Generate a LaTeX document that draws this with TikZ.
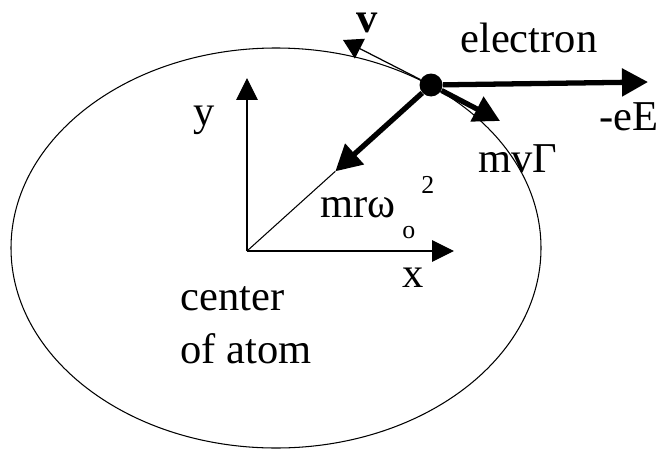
\documentclass[tikz,border=0pt]{standalone}
\usepackage{fontspec}
\setmainfont{Liberation Serif}
\usepackage{tikz}
\usetikzlibrary{arrows.meta, positioning, calc}

\begin{document}
\begin{tikzpicture}[
    x=0.02cm, y=-0.02cm,
    lbl/.style={inner sep=0pt, anchor=base west, font=\fontsize{24.2}{30}\selectfont},
    idx/.style={inner sep=0pt, anchor=base west, font=\fontsize{14.7}{18}\selectfont},
    axis/.style={-{Triangle[length=0.44cm, width=0.43cm]}, line width=0.6pt},
    force/.style={-{Triangle[length=0.52cm, width=0.54cm]}, line width=3pt},
    vel/.style={-{Triangle[length=0.38cm, width=0.44cm]}, line width=0.7pt}
  ]
    \useasboundingbox (0,0) rectangle (659,450);

    % orbit and axes
    \draw[line width=0.6pt] (276,248) ellipse [x radius=265, y radius=200];
    \coordinate (o) at (247,251);
    \coordinate (ytip) at (247,78);
    \coordinate (xtip) at (454,251);
    \draw[axis] (o) -- (ytip);
    \draw[axis] (o) -- (xtip);

    % electron and forces
    \node[circle, fill, inner sep=0pt, minimum size=0.46cm] (e) at (431,85) {};
    \coordinate (rtip) at ($(o)!0.48!(e)$);
    \coordinate (etip) at (648,82);
    \coordinate (gtip) at (500,121);
    \coordinate (vtip) at (343,40);
    \draw[line width=0.6pt] (o) -- (rtip);
    \draw[force] (e) -- (rtip);
    \draw[force] (e) -- (etip);
    \draw[force] (e) -- (gtip);
    \draw[vel] (e) -- (vtip);

    \node[lbl] (ylbl) at (193,125) {y};
    \node[lbl] (xlbl) at (402,287) {x};
    \node[lbl] (ctr) at (180,310) {center};
    \node[lbl] (atom) at (180,363) {of atom};
    \node[lbl] (elec) at (460,52) {electron};
    \node[lbl] (field) at (599,130) {-eE};
    \node[lbl] (damp) at (478,172) {mvΓ};
    \node[lbl] (cent) at (320,217) {mrω};
    \node[idx] (sq) at (421,193) {2};
    \node[idx] (nat) at (402,238) {o};
    \node[lbl] (vlbl) at (356,32) {\textbf{v}};
\end{tikzpicture}
\end{document}
